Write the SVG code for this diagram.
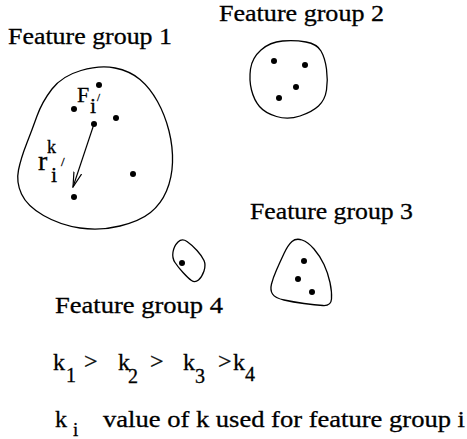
<svg xmlns="http://www.w3.org/2000/svg" width="467" height="439" viewBox="0 0 467 439" font-family="'Liberation Serif', serif">
  <style>
    .blob { fill: none; stroke: #000; stroke-width: 1.3; stroke-linejoin: round; }
    .pt { fill: #000; }
    text { fill: #000; stroke: #000; stroke-width: 0.3; }
    .title { font-size: 24px; }
    .conn { fill: none; stroke: #000; stroke-width: 1.2; }
  </style>
  <defs>
    <marker id="openArrow" viewBox="0 0 16 10" refX="15" refY="5" markerWidth="16" markerHeight="10" markerUnits="userSpaceOnUse" orient="auto">
      <path d="M0,1 L15,5 L0,9" fill="none" stroke="#000" stroke-width="1.2"/>
    </marker>
  </defs>
  <rect width="467" height="439" fill="#fff"/>

  <!-- Feature group 1 -->
  <g id="group1">
    <text class="title" x="8" y="44" textLength="164" lengthAdjust="spacingAndGlyphs">Feature group 1</text>
    <path class="blob" d="M115,68 Q130,71 140,79.5 Q150,88 157.5,101.5 Q165,115 169,131 Q173,147 172.5,162.5 Q172,178 166.5,191 Q161,204 150.5,212.5 Q140,221 120,226 Q100,231 80,228 Q60,225 43.5,215.5 Q27,206 21.5,194 Q16,182 18.5,170 Q21,158 26.5,144 Q32,130 37,116 Q42,102 52,89 Q62,76 81,70.5 Q100,65 115,68 Z"/>
    <circle class="pt" cx="99" cy="85" r="3"/>
    <circle class="pt" cx="74" cy="109" r="3"/>
    <circle class="pt" cx="94" cy="124" r="3"/>
    <circle class="pt" cx="116" cy="118" r="3"/>
    <circle class="pt" cx="133" cy="174" r="3"/>
    <circle class="pt" cx="74" cy="197" r="3"/>
    <!-- F_i' label -->
    <text x="77" y="102" font-size="22">F</text>
    <text x="90" y="113" font-size="22">i</text>
    <text x="97" y="101" font-size="11">/</text>
    <!-- r_i'^k label -->
    <text x="47" y="153" font-size="18">k</text>
    <text x="38" y="170" font-size="28">r</text>
    <text x="51" y="182" font-size="22">i</text>
    <text x="61" y="166" font-size="13">/</text>
  </g>

  <!-- Feature group 2 -->
  <g id="group2">
    <text class="title" x="219" y="21" textLength="165" lengthAdjust="spacingAndGlyphs">Feature group 2</text>
    <path class="blob" d="M282.5,41 Q295,40 306,42 Q317,44 321,51 Q325,58 326.5,69 Q328,80 326.5,90 Q325,100 318.5,106 Q312,112 300,116 Q288,120 276.5,116.5 Q265,113 259.5,106.5 Q254,100 251.5,90 Q249,80 250.5,69 Q252,58 261,50 Q270,42 282.5,41 Z"/>
    <circle class="pt" cx="274" cy="61" r="3"/>
    <circle class="pt" cx="305" cy="65" r="3"/>
    <circle class="pt" cx="296" cy="87" r="3"/>
    <circle class="pt" cx="279" cy="98" r="3"/>
  </g>

  <!-- Feature group 3 -->
  <g id="group3">
    <text class="title" x="250" y="219" textLength="163" lengthAdjust="spacingAndGlyphs">Feature group 3</text>
    <path class="blob" d="M302,240 Q308,242 314,249 Q320,256 324,264.5 Q328,273 330,282.5 Q332,292 331.5,299 Q331,306 323,305.5 Q315,305 304,303.5 Q293,302 284,300 Q275,298 272.5,294 Q270,290 271.5,284 Q273,278 276.5,270 Q280,262 284,253.5 Q288,245 292,241.5 Q296,238 302,240 Z"/>
    <circle class="pt" cx="304" cy="261" r="3"/>
    <circle class="pt" cx="298" cy="279" r="3"/>
    <circle class="pt" cx="312" cy="292" r="3"/>
  </g>

  <!-- Feature group 4 -->
  <g id="group4">
    <text class="title" x="55" y="313" textLength="168" lengthAdjust="spacingAndGlyphs">Feature group 4</text>
    <path class="blob" d="M187,241.5 Q192,245 197,250.5 Q202,256 204,260.5 Q206,265 204,271 Q202,277 198.5,280 Q195,283 191.5,280.5 Q188,278 183,272.5 Q178,267 175,262.5 Q172,258 173,252 Q174,246 178,242 Q182,238 187,241.5 Z"/>
    <circle class="pt" cx="182" cy="263" r="3"/>
  </g>

  <!-- connectors -->
  <g id="connectors">
    <line class="conn" x1="94" y1="124" x2="73" y2="187" marker-end="url(#openArrow)"/>
  </g>

  <!-- legend -->
  <g id="legend">
    <text x="53" y="370" font-size="24">k</text>
    <text x="66" y="382" font-size="20">1</text>
    <text x="84" y="369" font-size="24">&gt;</text>
    <text x="118" y="370" font-size="24">k</text>
    <text x="128" y="383" font-size="20">2</text>
    <text x="150" y="369" font-size="24">&gt;</text>
    <text x="183" y="370" font-size="24">k</text>
    <text x="195" y="383" font-size="20">3</text>
    <text x="218" y="369" font-size="24">&gt;</text>
    <text x="233" y="370" font-size="24">k</text>
    <text x="245" y="381" font-size="20">4</text>

    <text x="55" y="427" font-size="24">k</text>
    <text x="73" y="436" font-size="19">i</text>
    <text x="103" y="427" font-size="24" textLength="362" lengthAdjust="spacingAndGlyphs">value of k used for feature group i</text>
  </g>
</svg>
